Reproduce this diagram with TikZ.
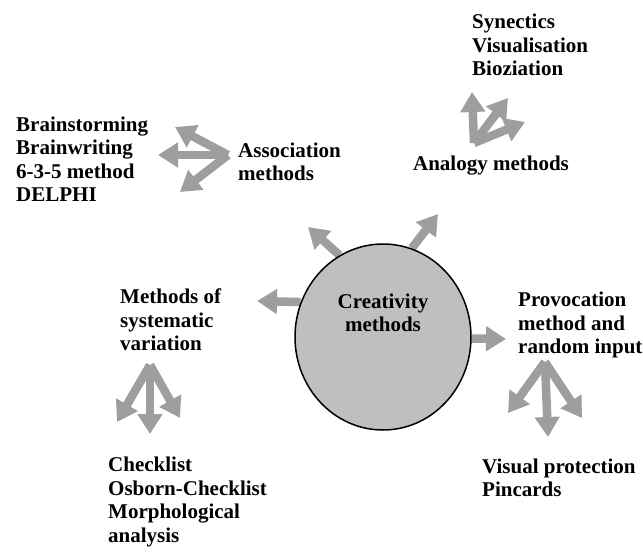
\documentclass[tikz,border=0pt]{standalone}
\usepackage{fontspec}
\setmainfont{Liberation Serif}
\usetikzlibrary{arrows.meta,shapes.geometric,backgrounds}

\tikzset{
  fatarrow/.style={draw=black!38, line width=8.5pt, -{Triangle[width=24pt,length=20pt]}},
  lbl/.style={inner sep=0, align=left, font=\fontsize{21}{23.5}\selectfont\bfseries}
}

\begin{document}
\begin{tikzpicture}[x=1pt,y=-1pt]
\useasboundingbox (0,0) rectangle (643,554);
% central ellipse
\node[draw, ellipse, line width=1.5pt, fill=black!25, minimum width=176pt, minimum height=186pt] (cm) at (383,337) {};
\node[lbl, align=center] (ctext) at (383,313) {Creativity\\methods};
% labels
\node[lbl, anchor=west] (assoc) at (238,162) {Association\\methods};
\node[lbl, anchor=west] (brain) at (16,159) {Brainstorming\\Brainwriting\\6-3-5 method\\DELPHI};
\node[lbl] (analogy) at (491,166) {Analogy methods};
\node[lbl, anchor=west] (synect) at (472,45) {Synectics\\Visualisation\\Bioziation};
\node[lbl, anchor=west] (variat) at (120,320) {Methods of\\systematic\\variation};
\node[lbl, anchor=west] (check) at (108,502) {Checklist\\Osborn-Checklist\\Morphological\\analysis};
\node[lbl, anchor=west] (provoc) at (518,325) {Provocation\\method and\\random input};
\node[lbl, anchor=west] (visual) at (482,478) {Visual protection\\Pincards};
% arrow ends
\coordinate (tl) at (257,301);
\coordinate (tul) at (308,227);
\coordinate (tur) at (438,214);
\coordinate (tr) at (506,339);
\coordinate (a0) at (228,155);
\coordinate (a1) at (158,155);
\coordinate (a2) at (175,127);
\coordinate (a3) at (180,192);
\coordinate (b0) at (474,143);
\coordinate (b1) at (472,92);
\coordinate (b2) at (508,98);
\coordinate (b3) at (525,122);
\coordinate (c0) at (150,365);
\coordinate (c1) at (150,434);
\coordinate (c2) at (117,422);
\coordinate (c3) at (180,418);
\coordinate (d0) at (545,362);
\coordinate (d1) at (548,437);
\coordinate (d2) at (508,413);
\coordinate (d3) at (582,418);
\begin{scope}[on background layer]
\draw[fatarrow] (cm.157) -- (tl);
\draw[fatarrow] (cm.118) -- (tul);
\draw[fatarrow] (cm.72) -- (tur);
\draw[fatarrow] (cm.-1) -- (tr);
\foreach \p in {a,b,c,d}
  \foreach \i in {1,2,3}
    \draw[fatarrow] (\p0) -- (\p\i);
\end{scope}
\end{tikzpicture}
\end{document}
